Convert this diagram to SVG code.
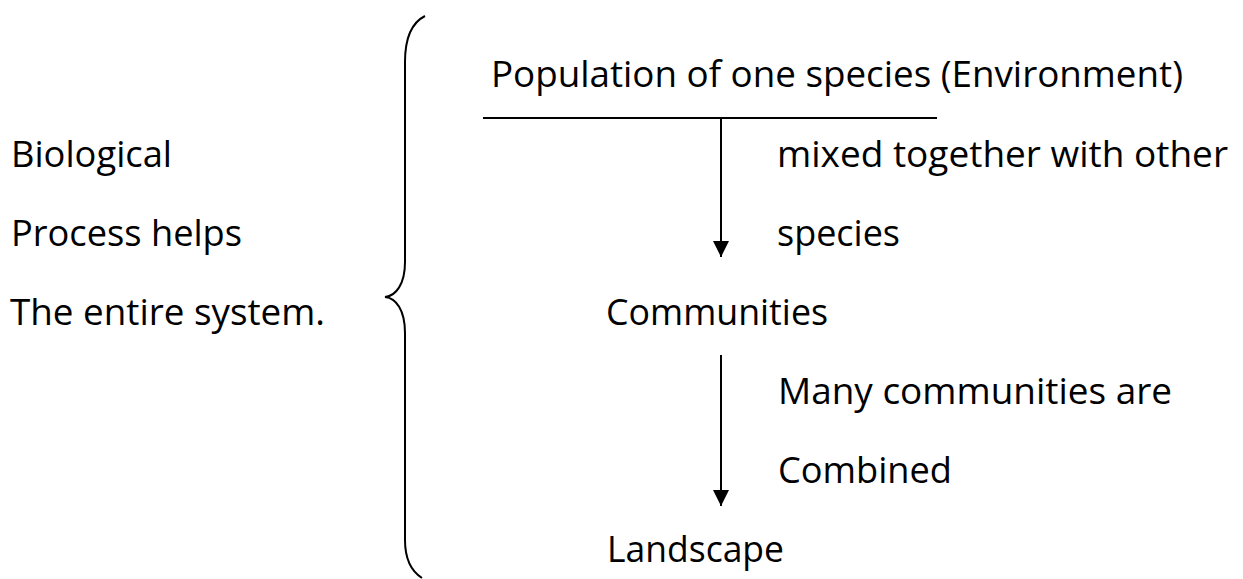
<svg xmlns="http://www.w3.org/2000/svg" width="1243" height="579" viewBox="0 0 1243 579">
<defs>
<style>
.t{font-family:"Open Sans","Noto Sans","Liberation Sans",sans-serif;font-size:36px;fill:#000}
.ln{stroke:#000;stroke-width:2;fill:none}
</style>
<marker id="ah" markerWidth="16" markerHeight="16" viewBox="0 0 16 16" refX="16" refY="8" orient="auto" markerUnits="userSpaceOnUse">
<path d="M0,0 L16,8 L0,16 Z" fill="#000"/>
</marker>
</defs>
<rect width="1243" height="579" fill="#fff"/>
<g id="left-label">
<text class="t" x="11" y="167" textLength="161" lengthAdjust="spacingAndGlyphs">Biological</text>
<text class="t" x="11" y="246" textLength="231" lengthAdjust="spacingAndGlyphs">Process helps</text>
<text class="t" x="10" y="325" textLength="315" lengthAdjust="spacingAndGlyphs">The entire system.</text>
</g>
<g id="brace">
<path class="ln" d="M425,16 C411,23 405,40 405,62 L405,262 C405,284 396,296 385,297 C396,298 405,310 405,333 L405,540 C405,560 411,571 422,578"/>
</g>
<g id="population">
<text class="t" x="491" y="87" textLength="692" lengthAdjust="spacingAndGlyphs">Population of one species (Environment)</text>
<line class="ln" x1="483" y1="118" x2="937" y2="118"/>
</g>
<g id="communities">
<text class="t" x="606" y="325" textLength="222" lengthAdjust="spacingAndGlyphs">Communities</text>
</g>
<g id="landscape">
<text class="t" x="607" y="562" textLength="177" lengthAdjust="spacingAndGlyphs">Landscape</text>
</g>
<g id="connectors">
<line class="ln" x1="721" y1="118" x2="721" y2="257" marker-end="url(#ah)"/>
<line class="ln" x1="721" y1="355" x2="721" y2="506" marker-end="url(#ah)"/>
</g>
<g id="label-mixed">
<text class="t" x="777" y="167" textLength="451" lengthAdjust="spacingAndGlyphs">mixed together with other</text>
<text class="t" x="777" y="246" textLength="123" lengthAdjust="spacingAndGlyphs">species</text>
</g>
<g id="label-combined">
<text class="t" x="778" y="404" textLength="394" lengthAdjust="spacingAndGlyphs">Many communities are</text>
<text class="t" x="778" y="483" textLength="174" lengthAdjust="spacingAndGlyphs">Combined</text>
</g>
</svg>
